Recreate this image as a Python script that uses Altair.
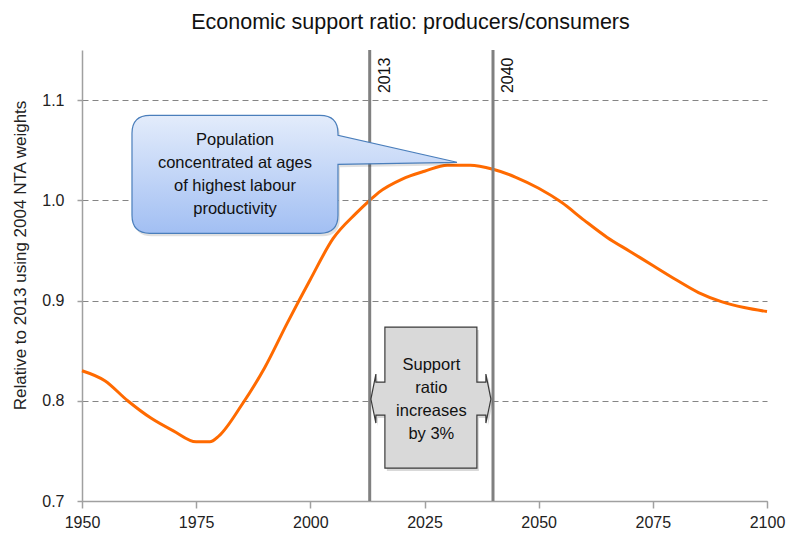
import altair as alt
import pandas as pd

# ---- data ----
years = [1950, 1955, 1960, 1965, 1970, 1975, 1978, 1980, 1985, 1990, 1995, 2000,
         2005, 2010, 2013, 2015, 2020, 2025, 2030, 2035, 2040, 2045, 2050, 2055,
         2060, 2065, 2070, 2075, 2080, 2085, 2090, 2095, 2100]
ratio = [0.830, 0.820, 0.800, 0.783, 0.770, 0.759, 0.759, 0.765, 0.796, 0.833,
         0.878, 0.921, 0.962, 0.987, 1.000, 1.008, 1.021, 1.029, 1.035, 1.035,
         1.031, 1.023, 1.012, 0.998, 0.980, 0.963, 0.949, 0.935, 0.921, 0.908,
         0.899, 0.893, 0.889]
marker_years = [2013, 2040]
marker_labels = ["2013", "2040"]
x_ticks = [1950, 1975, 2000, 2025, 2050, 2075, 2100]
y_ticks = [0.7, 0.8, 0.9, 1.0, 1.1]
callout_lines = ["Population", "concentrated at ages", "of highest  labour", "productivity"]
box_lines = ["Support", "ratio", "increases", "by 3%"]

FONT = "Liberation Sans Narrow, Arial Narrow, Liberation Sans, Arial"

series = pd.DataFrame({"year": years, "ratio": ratio})
markers = pd.DataFrame({"year": marker_years, "label": marker_labels, "ratio": [1.107, 1.107]})
callout = pd.DataFrame({"year": [1983.5], "ratio": [1.026]})
callout_t = pd.DataFrame({"year": [1983.5], "ratio": [1.060]})
box = pd.DataFrame({"year": [2026.4], "ratio": [0.8017]})
box_t = pd.DataFrame({"year": [2026.5], "ratio": [0.8356]})

xs = alt.Scale(domain=[1950, 2100], nice=False, zero=False)
ys = alt.Scale(domain=[0.7, 1.15], nice=False, zero=False)

x_axis = alt.Axis(values=x_ticks, format="d", grid=False, title=None,
                  domainColor="#a0a0a0", domainWidth=1.5, tickColor="#a0a0a0",
                  tickWidth=1.5, tickSize=7, labelFont=FONT, labelFontSize=16,
                  labelColor="#222222", labelPadding=6, labelFlush=False)
y_axis = alt.Axis(values=y_ticks, format=".1f", grid=True, gridDash=[6, 4],
                  gridColor="#858585", gridWidth=1.2,
                  domainColor="#a0a0a0", domainWidth=1.5, tickColor="#a0a0a0",
                  tickWidth=1.5, tickSize=5, labelFont=FONT, labelFontSize=16,
                  labelColor="#222222", labelPadding=13,
                  title="Relative to 2013 using 2004 NTA weights",
                  titleFont=FONT, titleFontSize=17, titleFontWeight="normal",
                  titleColor="#222222", titleAngle=-90, titleX=-62, titleY=205,
                  titleAlign="center", titleBaseline="middle")

X = alt.X("year:Q", scale=xs, axis=x_axis)
Y = alt.Y("ratio:Q", scale=ys, axis=y_axis)

line = alt.Chart(series).mark_line(
    color="#FF6A00", strokeWidth=3, interpolate="monotone"
).encode(x=X, y=Y)

rules = alt.Chart(markers).mark_rule(color="#808080", strokeWidth=3).encode(x=X)

rule_text = alt.Chart(markers).mark_text(
    angle=270, align="left", baseline="top", dy=7, font=FONT, fontSize=16,
    color="#111111"
).encode(x=X, y=Y, text="label:N")

callout_path = ("M -85 -59 L 85 -59 Q 103 -59 103 -41 L 103 -39 L 222 -12 L 103 -10 "
                "L 103 41 Q 103 59 85 59 L -85 59 Q -103 59 -103 41 L -103 -41 "
                "Q -103 -59 -85 -59 Z")
blue_grad = alt.Gradient(gradient="linear", x1=0, x2=0, y1=0, y2=1,
                         stops=[alt.GradientStop(color="#e3ecfb", offset=0),
                                alt.GradientStop(color="#a2bff3", offset=1)])
callout_shadow = alt.Chart(callout).mark_point(
    shape=callout_path, size=4, filled=True, fill="#000000", strokeWidth=0,
    opacity=0.12, xOffset=2, yOffset=3
).encode(x=X, y=Y)
callout_shape = alt.Chart(callout).mark_point(
    shape=callout_path, size=4, filled=True, fill=blue_grad, stroke="#4a7ebb",
    strokeWidth=1.2, opacity=1
).encode(x=X, y=Y)
callout_text = alt.Chart(callout_t).mark_text(
    text=callout_lines, lineHeight=23, font=FONT, fontSize=16.5,
    color="#111111", align="center", baseline="middle"
).encode(x=X, y=Y)

box_path = ("M -46 -72 L 46 -72 L 46 -17 L 55 -17 L 55 -25 L 60 0 L 55 24 L 55 16 "
            "L 46 16 L 46 69 L -46 69 L -46 16 L -55 16 L -55 24 L -60 0 L -55 -25 "
            "L -55 -17 L -46 -17 Z")
box_shadow = alt.Chart(box).mark_point(
    shape=box_path, size=4, filled=True, fill="#000000", strokeWidth=0,
    opacity=0.15, xOffset=2, yOffset=3
).encode(x=X, y=Y)
box_shape = alt.Chart(box).mark_point(
    shape=box_path, size=4, filled=True, fill="#d9d9d9", stroke="#3a3a3a",
    strokeWidth=1.2, opacity=1
).encode(x=X, y=Y)
box_text = alt.Chart(box_t).mark_text(
    text=box_lines, lineHeight=23, font=FONT, fontSize=16.5,
    color="#111111", align="center", baseline="middle"
).encode(x=X, y=Y)

chart = alt.layer(
    line, rules, rule_text, callout_shadow, callout_shape, callout_text,
    box_shadow, box_shape, box_text
).properties(
    width=685, height=451,
    title=alt.TitleParams("Economic support ratio: producers/consumers",
                          fontSize=21.5, font="Liberation Sans", fontWeight="normal",
                          color="#111111", anchor="middle", frame="group",
                          dx=-14, offset=15),
    padding={"left": 74, "top": 42, "right": 24, "bottom": 33},
    autosize=alt.AutoSizeParams(type="none"),
    background="white",
).configure_view(strokeWidth=0)

chart.save("out.html", embed_options={"renderer": "svg", "actions": False})
